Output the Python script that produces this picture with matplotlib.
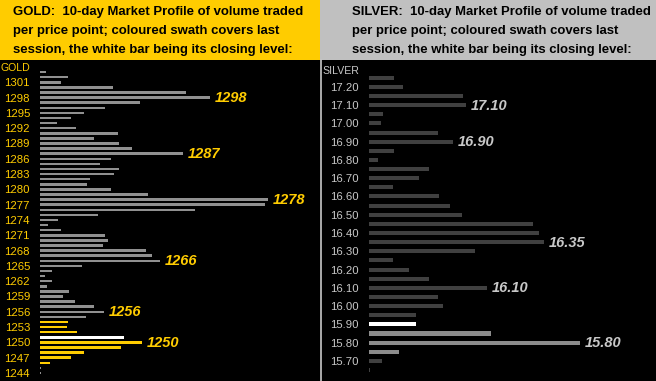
import matplotlib
matplotlib.use("Agg")
import matplotlib.pyplot as plt
from matplotlib.patches import Rectangle
from matplotlib.lines import Line2D

# ---------------- data ----------------
gold_prices = list(range(1303, 1243, -1))
gold_volume = [6, 28, 21, 73, 146, 170, 100, 65, 44, 31, 17, 36, 78, 54, 79, 92, 143, 71, 60, 79,
               74, 50, 47, 71, 108, 228, 225, 155, 58, 18, 8, 21, 65, 68, 63, 106, 112, 120, 42, 12,
               5, 12, 7, 29, 23, 35, 54, 64, 46, 28, 27, 37, 84, 102, 81, 44, 31, 10, 1, 1]
gold_swath = (1246, 1254)
gold_close = 1251
gold_ticks = list(range(1301, 1243, -3))
gold_marks = [1298, 1287, 1278, 1266, 1256, 1250]

silver_prices = [round(17.25 - 0.05 * i, 2) for i in range(33)]
silver_volume = [24.7, 33.7, 94, 97, 13.7, 11.7, 69, 84, 24.7, 8.7, 60,
                 49.7, 23.7, 69.7, 80.7, 92.7, 163.7, 169.7, 174.7, 105.7, 23.7, 39.7,
                 60, 117.7, 69, 73.7, 47, 47, 122, 211, 29.7, 13, 1]
silver_swath = (15.75, 15.90)
silver_close = 15.90
silver_ticks = [round(17.20 - 0.10 * i, 2) for i in range(16)]
silver_marks = [17.10, 16.90, 16.35, 16.10, 15.80]

gold_title = ["GOLD:  10-day Market Profile of volume traded",
              "per price point; coloured swath covers last",
              "session, the white bar being its closing level:"]
silver_title = ["SILVER:  10-day Market Profile of volume traded",
                "per price point; coloured swath covers last",
                "session, the white bar being its closing level:"]

# ---------------- style ----------------
W, H = 656, 381
YEL = "#FFCC00"
SILV_HDR = "#C0C0C0"
plt.rcParams['font.family'] = ['Liberation Sans', 'DejaVu Sans']

fig = plt.figure(figsize=(W / 100, H / 100), dpi=100, facecolor="black")

def fx(px):
    return px / W

def fy(py):
    return 1 - py / H

# headers
fig.add_artist(Rectangle((0, fy(60)), fx(320), 60 / H, transform=fig.transFigure,
                         facecolor=YEL, edgecolor="none"))
fig.add_artist(Rectangle((fx(320), fy(60)), fx(336), 60 / H, transform=fig.transFigure,
                         facecolor=SILV_HDR, edgecolor="none"))
fig.add_artist(Line2D([fx(320.5), fx(320.5)], [0, fy(60)], transform=fig.transFigure,
                      color="#C8C8C8", lw=1.2))

for i, line in enumerate(gold_title):
    fig.text(fx(13), fy(12 + 19 * i), line, ha="left", va="center",
             fontsize=9.45, fontweight="bold", color="black")
for i, line in enumerate(silver_title):
    fig.text(fx(352), fy(12 + 19 * i), line, ha="left", va="center",
             fontsize=9.45, fontweight="bold", color="black")

top_frac = (H - 60) / H

# ---------------- gold ----------------
axg = fig.add_axes([fx(40), 0, fx(278), top_frac])
axg.set_facecolor("none")
gcolors = []
for p in gold_prices:
    if p == gold_close:
        gcolors.append("white")
    elif gold_swath[0] <= p <= gold_swath[1]:
        gcolors.append(YEL)
    else:
        gcolors.append("#909090")
axg.barh(gold_prices, gold_volume, height=0.5, color=gcolors, left=0)
axg.set_xlim(0, 278)
axg.set_ylim(1242.43, 1305.37)
axg.set_yticks([1304] + gold_ticks)
axg.set_yticklabels(["GOLD"] + [str(t) for t in gold_ticks])
axg.tick_params(axis="y", length=0, pad=7.2, labelcolor=YEL, labelsize=8.2)
axg.get_yticklabels()[0].set_fontsize(7.6)
axg.set_xticks([])
for s in axg.spines.values():
    s.set_visible(False)
for m in gold_marks:
    v = gold_volume[gold_prices.index(m)]
    axg.annotate(str(m), (v, m), xytext=(5, -0.5), textcoords="offset pixels",
                 ha="left", va="center", fontsize=10.5, fontweight="bold",
                 fontstyle="italic", color=YEL)

# ---------------- silver ----------------
axs = fig.add_axes([fx(369), 0, fx(287), top_frac])
axs.set_facecolor("none")
scolors = []
for p in silver_prices:
    if abs(p - silver_close) < 1e-6:
        scolors.append("white")
    elif silver_swath[0] - 1e-6 <= p <= silver_swath[1] + 1e-6:
        scolors.append("#8C8C8C")
    else:
        scolors.append("#404040")
axs.barh(silver_prices, silver_volume, height=0.022, color=scolors, left=0)
axs.set_xlim(0, 287)
axs.set_ylim(15.590, 17.347)
axs.set_yticks([17.292] + silver_ticks)
axs.set_yticklabels(["SILVER"] + ["%.2f" % t for t in silver_ticks])
axs.tick_params(axis="y", length=0, pad=7.2, labelcolor="#C8C8C8", labelsize=8.2)
axs.get_yticklabels()[0].set_fontsize(7.6)
axs.set_xticks([])
for s in axs.spines.values():
    s.set_visible(False)
for m in silver_marks:
    v = silver_volume[silver_prices.index(m)]
    axs.annotate("%.2f" % m, (v, m), xytext=(5, -0.5), textcoords="offset pixels",
                 ha="left", va="center", fontsize=10.5, fontweight="bold",
                 fontstyle="italic", color="#C8C8C8")

fig.savefig("out.png", dpi=100, facecolor="black")
